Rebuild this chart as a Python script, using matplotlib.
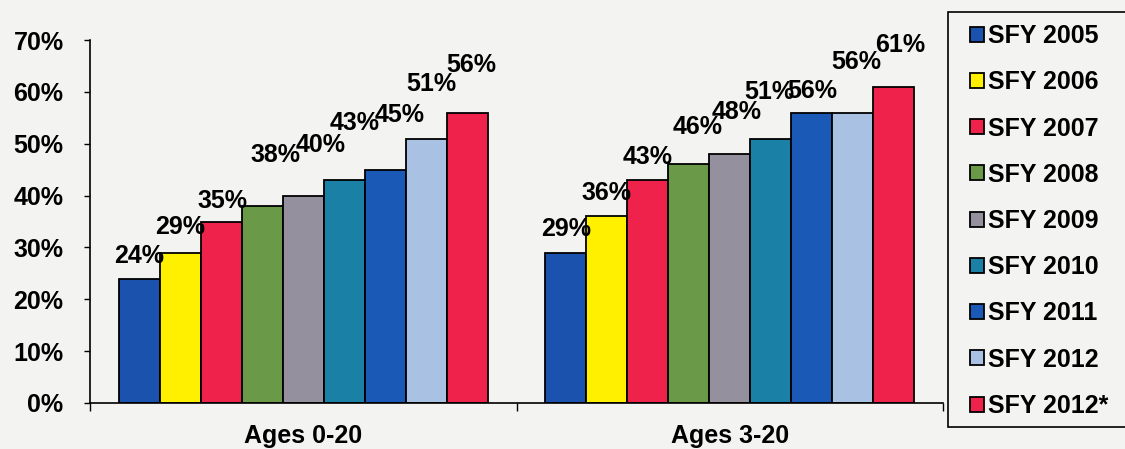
import matplotlib
matplotlib.use('Agg')
import matplotlib.pyplot as plt
from matplotlib.patches import Rectangle
from matplotlib.ticker import FuncFormatter
import numpy as np

# ---- Data ----
groups = ['Ages 0-20', 'Ages 3-20']
series = ['SFY 2005', 'SFY 2006', 'SFY 2007', 'SFY 2008', 'SFY 2009',
          'SFY 2010', 'SFY 2011', 'SFY 2012', 'SFY 2012*']
ages_0_20 = [24, 29, 35, 38, 40, 43, 45, 51, 56]
ages_3_20 = [29, 36, 43, 46, 48, 51, 56, 56, 61]

# ---- Style ----
COLORS = ['#1A52AE', '#FFF000', '#EF224B', '#6A9A48', '#94909E',
          '#1A80A6', '#1A5AB6', '#A9C2E4', '#EF224B']
BG = '#F3F3F1'
FONT = ['Liberation Sans', 'DejaVu Sans']
FS = 18

# label offsets in pixels (dx, dy above bar top), per group
LABEL_OFF = [
    [(0, 23), (0, 26), (1, 21), (13, 51), (17, 51), (10, 57), (14, 55), (5, 55), (4, 48)],
    [(0, 24), (0, 23), (0, 23), (9, 37), (7, 42), (-1, 47), (1, 22), (4, 51), (6, 42)],
]

plt.rcParams['font.family'] = FONT
plt.rcParams['font.weight'] = 'bold'

fig = plt.figure(figsize=(11.25, 4.49), dpi=100, facecolor=BG)
ax = fig.add_axes([90 / 1125, 46 / 449, 853 / 1125, 363 / 449])
ax.set_facecolor(BG)

values = np.array([ages_0_20, ages_3_20]) / 100.0
n = len(series)
w = 0.0961
x = np.arange(len(groups))

handles = []
for i, name in enumerate(series):
    xs = x + (i - (n - 1) / 2) * w
    b = ax.bar(xs, values[:, i], w, color=COLORS[i], edgecolor='black',
               linewidth=1.3, label=name, zorder=2)
    handles.append(b)
    for g, rect in enumerate(b):
        dx, dy = LABEL_OFF[g][i]
        ax.annotate(f'{int(round(values[g, i] * 100))}%',
                    (rect.get_x() + rect.get_width() / 2, rect.get_height()),
                    xytext=(dx, dy), textcoords='offset pixels',
                    ha='center', va='center', fontsize=FS, fontweight='bold',
                    zorder=3)

ax.set_xlim(-0.5, 1.5)
ax.set_ylim(0, 0.7)
ax.set_yticks(np.arange(0, 0.71, 0.1))
ax.yaxis.set_major_formatter(FuncFormatter(lambda v, p: f'{v:.0%}'))
ax.tick_params(axis='y', direction='out', length=4, width=1, pad=15,
               labelsize=FS)

ax.set_xticks([-0.5, 0.5, 1.5])
ax.set_xticklabels([])
ax.set_xticks(x, minor=True)
ax.set_xticklabels(groups, minor=True, fontsize=FS, fontweight='bold')
ax.tick_params(axis='x', which='major', direction='out', length=6, width=1)
ax.tick_params(axis='x', which='minor', length=0, pad=15)

for s in ['top', 'right']:
    ax.spines[s].set_visible(False)
for s in ['left', 'bottom']:
    ax.spines[s].set_linewidth(1.2)

# legend box (runs off the right edge as in the source)
fig.patches.append(Rectangle((948 / 1125, 1 - 427 / 449), 200 / 1125, 415 / 449,
                             transform=fig.transFigure, facecolor=BG,
                             edgecolor='black', linewidth=1.2, zorder=0))
fig.legend(handles=handles, labels=series, loc='upper left',
           bbox_to_anchor=(970 / 1125, 1 - 24 / 449), frameon=False,
           prop={'family': FONT, 'weight': 'bold', 'size': FS},
           handlelength=0.55, handleheight=0.55, handletextpad=0.15,
           labelspacing=0.89, borderpad=0, borderaxespad=0)

fig.savefig('out.png', dpi=100, facecolor=BG)
